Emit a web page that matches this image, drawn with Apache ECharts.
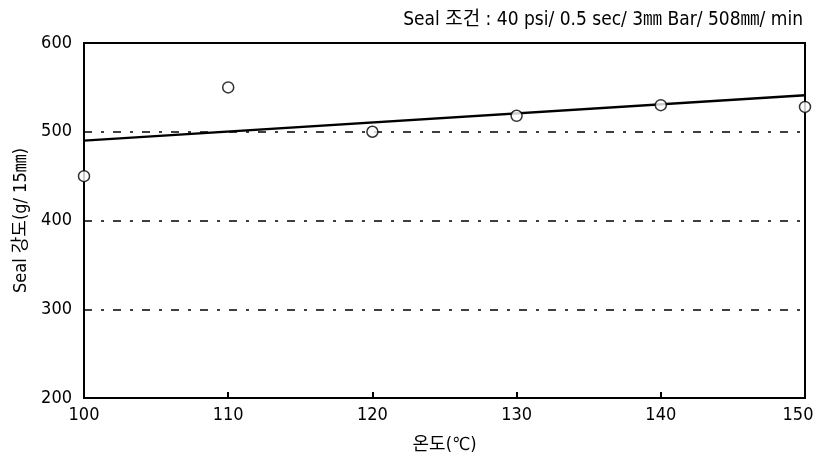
<!DOCTYPE html>
<html>
<head>
<meta charset="utf-8">
<script src="https://cdn.jsdelivr.net/npm/echarts@6/dist/echarts.min.js"></script>
<style>
  html, body { margin: 0; padding: 0; background: #fff; }
  #chart { width: 818px; height: 459px; }
</style>
</head>
<body>
<div id="chart"></div>
<script>
// measured points (temperature, seal strength)
const temps = [100, 110, 120, 130, 140, 150];
const strength = [450, 550, 500, 518, 530, 528];
// fitted trend line end points
const fitX = [100, 150];
const fitY = [490, 541];
const xTicks = [100, 110, 120, 130, 140, 150];
const yTicks = [200, 300, 400, 500, 600];

const font = '"DejaVu Sans Condensed", "Noto Sans CJK KR", sans-serif';
const xMax = xTicks[xTicks.length - 1];

const chart = echarts.init(document.getElementById('chart'));

const option = {
  animation: false,
  title: {
    text: 'Seal 조건 : 40 psi/ 0.5 sec/ 3㎜ Bar/ 508㎜/ min',
    right: 10,
    top: 6,
    textStyle: { fontFamily: font, fontSize: 19, fontWeight: 'normal', color: '#000' }
  },
  grid: {
    left: 84, right: 13, top: 43, bottom: 61,
    outerBoundsMode: 'none',
    show: true, borderColor: '#000', borderWidth: 2
  },
  xAxis: {
    type: 'value',
    min: xTicks[0], max: xMax, interval: 10,
    name: '온도(℃)',
    nameLocation: 'middle',
    nameGap: 38,
    nameTextStyle: { fontFamily: font, fontSize: 18, color: '#000' },
    axisLine: { lineStyle: { color: '#000', width: 2 } },
    axisTick: { inside: true, length: 6, lineStyle: { color: '#000', width: 2 } },
    axisLabel: {
      fontFamily: font, fontSize: 18, color: '#000', margin: 8,
      formatter: v => (v === xMax ? '{last|' + v + '}' : String(v)),
      rich: { last: { fontFamily: font, fontSize: 18, color: '#000', padding: [0, 14, 0, 0] } }
    },
    splitLine: { show: false }
  },
  yAxis: {
    type: 'value',
    min: yTicks[0], max: yTicks[yTicks.length - 1], interval: 100,
    name: 'Seal 강도(g/ 15㎜)',
    nameLocation: 'middle',
    nameGap: 53,
    nameTextStyle: { fontFamily: font, fontSize: 18, color: '#000' },
    axisLine: { lineStyle: { color: '#000', width: 2 } },
    axisTick: { show: false },
    axisLabel: { fontFamily: font, fontSize: 18, color: '#000', margin: 12 },
    splitLine: {
      show: true,
      lineStyle: { color: '#000', width: 1.5, type: [8, 9, 3, 9] }
    }
  },
  series: [
    {
      type: 'line',
      data: fitX.map((x, i) => [x, fitY[i]]),
      symbol: 'none',
      lineStyle: { color: '#000', width: 2.5 },
      z: 3
    },
    {
      type: 'scatter',
      data: temps.map((t, i) => [t, strength[i]]),
      symbol: 'circle',
      symbolSize: 11,
      itemStyle: { color: '#fff', borderColor: '#000', borderWidth: 1.5 },
      z: 4
    }
  ]
};

chart.setOption(option);
</script>
</body>
</html>
